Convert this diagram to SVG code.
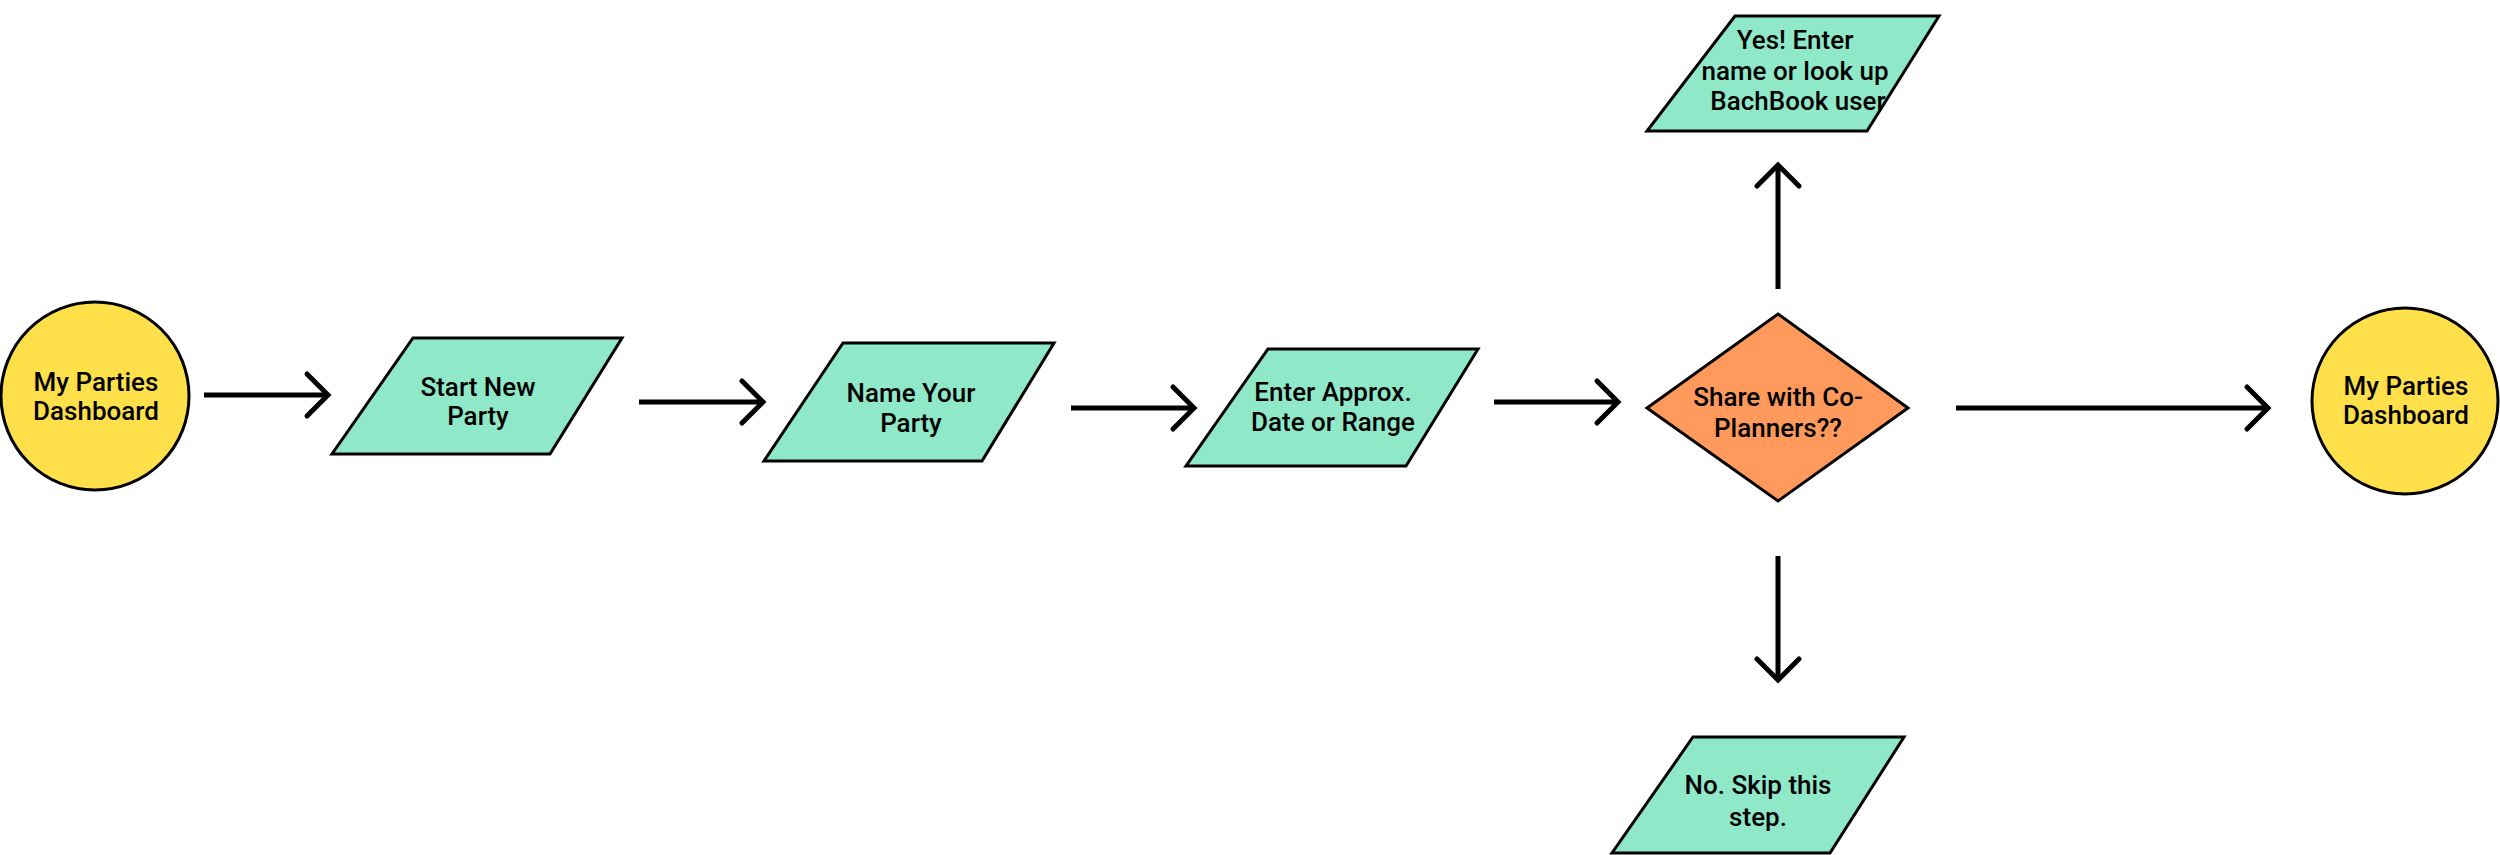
<svg xmlns="http://www.w3.org/2000/svg" width="2500" height="855" viewBox="0 0 2500 855">
<style>
.term{fill:#FFE04B;stroke:#000;stroke-width:3}
.io{fill:#8FE9C9;stroke:#000;stroke-width:3;stroke-linejoin:miter}
.dec{fill:#FF9A5C;stroke:#000;stroke-width:3}
.lbl{font-family:Roboto,"Liberation Sans",sans-serif;font-size:26px;font-weight:500;fill:#000;text-anchor:middle}
.conn{fill:none;stroke:#000;stroke-width:5;marker-end:url(#chev)}
</style>
<defs>
<marker id="chev" markerUnits="userSpaceOnUse" markerWidth="34" markerHeight="54" viewBox="-27 -27 34 54" refX="0" refY="0" orient="auto">
<path d="M-21,-21 L0,0 L-21,21" fill="none" stroke="#000" stroke-width="5" stroke-linecap="round" stroke-linejoin="miter"/>
</marker>
</defs>
<rect width="2500" height="855" fill="#fff"/>
<g id="connectors">
<line class="conn" x1="204" y1="395" x2="328" y2="395"/>
<line class="conn" x1="639" y1="402" x2="763" y2="402"/>
<line class="conn" x1="1071" y1="408" x2="1194" y2="408"/>
<line class="conn" x1="1494" y1="402" x2="1618" y2="402"/>
<line class="conn" x1="1956" y1="408" x2="2268" y2="408"/>
<line class="conn" x1="1778" y1="289" x2="1778" y2="165"/>
<line class="conn" x1="1778" y1="556" x2="1778" y2="680"/>
</g>
<g id="dashboard-start">
<ellipse class="term" cx="95" cy="396" rx="94" ry="94"/>
<text class="lbl" x="96" y="391">My Parties</text>
<text class="lbl" x="96" y="420">Dashboard</text>
</g>
<g id="start-new-party">
<polygon class="io" points="413,338 622,338 550,454 332,454"/>
<text class="lbl" x="478" y="396">Start New</text>
<text class="lbl" x="478" y="425">Party</text>
</g>
<g id="name-your-party">
<polygon class="io" points="843,343 1054,343 982,461 764,461"/>
<text class="lbl" x="911" y="402">Name Your</text>
<text class="lbl" x="911" y="432">Party</text>
</g>
<g id="enter-date">
<polygon class="io" points="1268,349 1478,349 1406,466 1186,466"/>
<text class="lbl" x="1333" y="401">Enter Approx.</text>
<text class="lbl" x="1333" y="431">Date or Range</text>
</g>
<g id="share-decision">
<polygon class="dec" points="1778,314 1908,408 1778,501 1647,408"/>
<text class="lbl" x="1778" y="406">Share with Co-</text>
<text class="lbl" x="1778" y="437">Planners??</text>
</g>
<g id="yes-enter-name">
<polygon class="io" points="1735,16 1939,16 1867,131 1647,131"/>
<text class="lbl" x="1795" y="49">Yes! Enter</text>
<text class="lbl" x="1795" y="80">name or look up</text>
<text class="lbl" x="1798" y="110">BachBook user</text>
</g>
<g id="no-skip">
<polygon class="io" points="1693,737 1904,737 1830,853 1612,853"/>
<text class="lbl" x="1758" y="794">No. Skip this</text>
<text class="lbl" x="1758" y="826">step.</text>
</g>
<g id="dashboard-end">
<ellipse class="term" cx="2405" cy="401" rx="93" ry="93"/>
<text class="lbl" x="2406" y="395">My Parties</text>
<text class="lbl" x="2406" y="424">Dashboard</text>
</g>
</svg>
